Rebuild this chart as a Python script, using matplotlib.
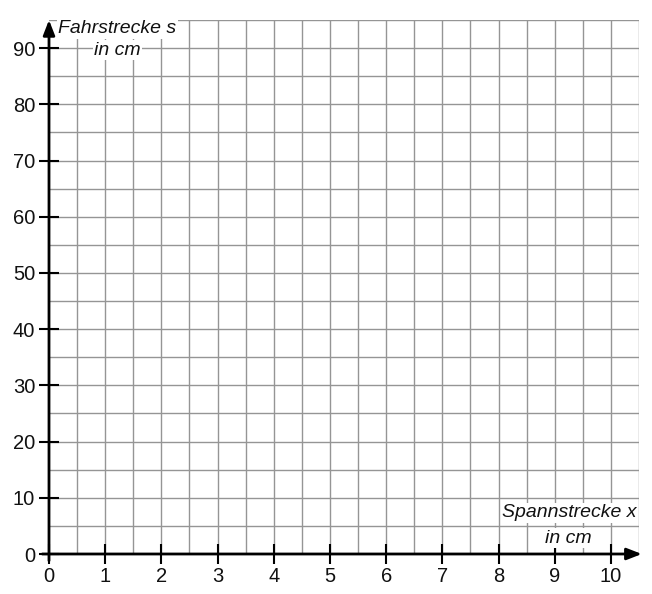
import numpy as np
import matplotlib.pyplot as plt

plt.rcParams['font.family'] = ['Liberation Sans', 'DejaVu Sans']

# axis values
x_ticks = list(range(0, 11))
y_ticks = list(range(0, 100, 10))
x_grid = np.arange(0, 10.51, 0.5)
y_grid = np.arange(0, 95.1, 5)
x_max, y_max = 10.5, 95

x_label = ["Spannstrecke x", "in cm"]
y_label = ["Fahrstrecke s", "in cm"]

fig = plt.figure(figsize=(6.52, 5.94), dpi=100)
W, H = 652, 594
ax = fig.add_axes([49 / W, (H - 554) / H, (639 - 49) / W, (554 - 20) / H])
ax.set_xlim(0, x_max)
ax.set_ylim(0, y_max)

# grid
grid_col = "#959595"
for gx in x_grid[1:]:
    ax.plot([gx, gx], [0, y_max], color=grid_col, lw=1.0, zorder=1)
for gy in y_grid[1:]:
    ax.plot([0, x_max], [gy, gy], color=grid_col, lw=1.0, zorder=1)

for s in ax.spines.values():
    s.set_visible(False)

ax.set_xticks(x_ticks)
ax.set_yticks(y_ticks)
ax.tick_params(direction="inout", length=14, width=1.5, labelsize=14.5,
               color="black", labelcolor="#111111")
ax.tick_params(axis="x", pad=2)
ax.tick_params(axis="y", pad=3)

# axes with arrows
ax.annotate("", xy=(x_max + 0.05, 0), xytext=(-0.12, 0),
            arrowprops=dict(arrowstyle="-|>,head_length=0.9,head_width=0.35",
                            color="black", lw=2.0, shrinkA=0, shrinkB=0),
            annotation_clip=False, zorder=5)
ax.annotate("", xy=(0, y_max), xytext=(0, -1.2),
            arrowprops=dict(arrowstyle="-|>,head_length=0.9,head_width=0.35",
                            color="black", lw=2.0, shrinkA=0, shrinkB=0),
            annotation_clip=False, zorder=5)

box = dict(facecolor="white", edgecolor="none", pad=1.0)
lab = dict(ha="center", va="center", fontsize=14, style="italic",
           color="#111111", zorder=4, bbox=box)

# y axis label, two lines each with own white box
ax.text(1.22, 93.4, y_label[0], **lab)
ax.text(1.22, 89.6, y_label[1], **lab)

# x axis label
ax.text(9.26, 7.3, x_label[0], **lab)
ax.text(9.25, 2.8, x_label[1], **lab)

fig.savefig("out.png", dpi=100, facecolor="white")
